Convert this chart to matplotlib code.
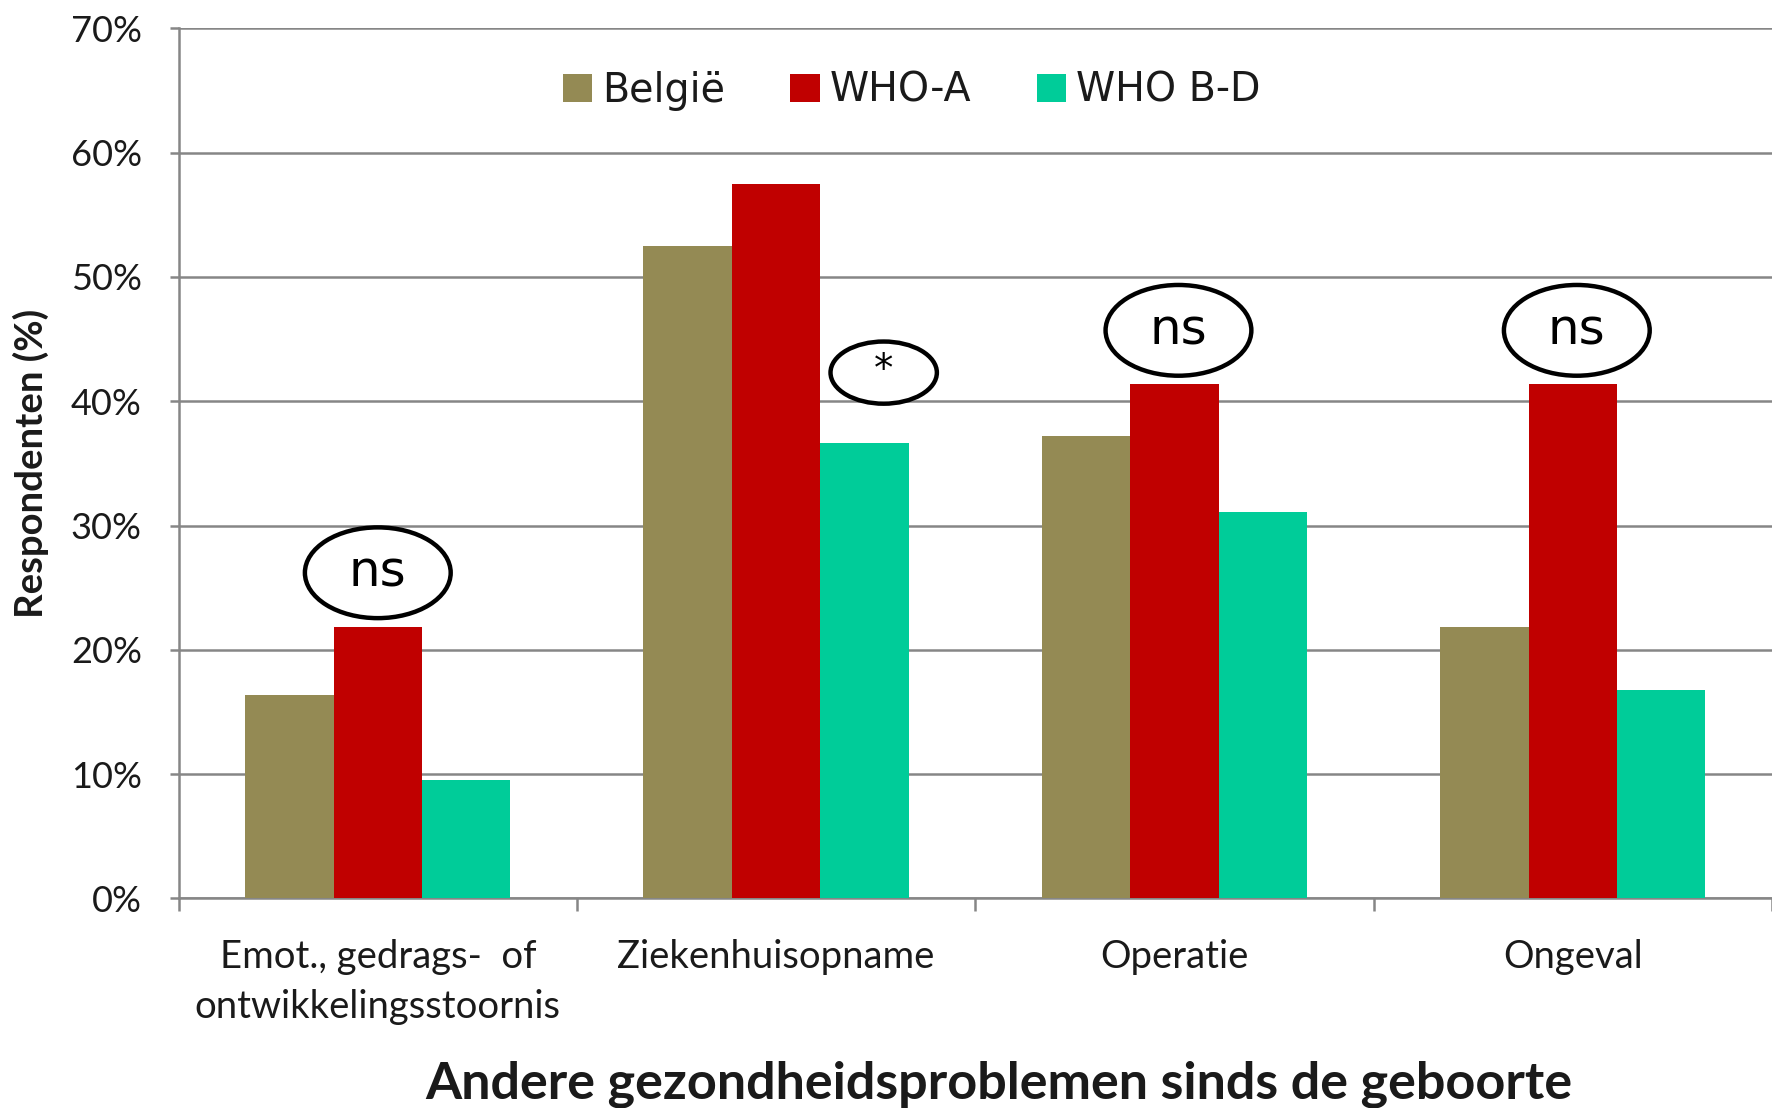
import matplotlib
matplotlib.use("Agg")
import matplotlib.pyplot as plt
from matplotlib.patches import Ellipse
from matplotlib.ticker import FixedLocator

# ---- data ----
categories = ["Emot., gedrags-  of\nontwikkelingsstoornis", "Ziekenhuisopname", "Operatie", "Ongeval"]
series_names = ["België", "WHO-A", "WHO B-D"]
belgie = [16.4, 52.5, 37.2, 21.8]
who_a = [21.8, 57.5, 41.4, 41.4]
who_bd = [9.5, 36.6, 31.1, 16.8]
y_ticks = [0, 10, 20, 30, 40, 50, 60, 70]
y_tick_labels = ["0%", "10%", "20%", "30%", "40%", "50%", "60%", "70%"]
annot_labels = ["ns", "*", "ns", "ns"]
annot_x = [0.0, 1.27, 2.01, 3.01]
annot_y = [26.2, 42.3, 45.7, 45.7]
annot_w = [0.366, 0.267, 0.366, 0.366]
annot_h = [7.3, 5.0, 7.3, 7.3]
annot_fs = [36, 28, 36, 36]
ylabel = "Respondenten (%)"
xlabel = "Andere gezondheidsproblemen sinds de geboorte"

colors = ["#948A54", "#C00000", "#00CC99"]
grid_col = "#868686"
text_col = "#1a1a1a"

fig = plt.figure(figsize=(17.72, 11.08), dpi=100)
ax = fig.add_axes([0.1008, 0.1891, 0.8992, 0.7854])

n = len(categories)
x = list(range(n))
w = 0.222
series = [belgie, who_a, who_bd]
for i, (name, vals, c) in enumerate(zip(series_names, series, colors)):
    xs = [xi + (i - 1) * w for xi in x]
    ax.bar(xs, vals, width=w, color=c, label=name, zorder=3, linewidth=0)

ax.set_xlim(-0.5, n - 0.5)
ax.set_ylim(0, 70)

# grid
ax.set_yticks(y_ticks)
ax.set_yticklabels(y_tick_labels, fontfamily="Lato", fontsize=26, color=text_col)
ax.yaxis.grid(True, color=grid_col, linewidth=1.8, zorder=0)
ax.set_axisbelow(True)

ax.set_xticks(x)
ax.set_xticklabels(categories, fontfamily="Lato", fontsize=27.5, color=text_col, linespacing=1.5)
ax.xaxis.set_minor_locator(FixedLocator([k - 0.5 for k in range(n + 1)]))
ax.tick_params(axis="x", which="major", length=0, pad=29)
ax.tick_params(axis="x", which="minor", length=9, width=1.8, color=grid_col)
ax.tick_params(axis="y", which="major", length=6.5, width=1.8, color=grid_col, pad=20)

for s in ["top", "right"]:
    ax.spines[s].set_visible(False)
for s in ["left", "bottom"]:
    ax.spines[s].set_color(grid_col)
    ax.spines[s].set_linewidth(1.8)

ax.set_ylabel(ylabel, fontfamily="Lato", fontweight="bold", fontsize=27.5, color=text_col, va="center")
ax.yaxis.set_label_coords(-0.0925, 0.5)
ax.set_xlabel(xlabel, fontfamily="Lato", fontweight="bold", fontsize=37.5, color=text_col, va="center")
ax.xaxis.set_label_coords(0.515, -0.213)

# annotations
for lab, ex, ey, ew, eh, fs in zip(annot_labels, annot_x, annot_y, annot_w, annot_h, annot_fs):
    ax.add_patch(Ellipse((ex, ey), ew, eh, facecolor="white", edgecolor="black", linewidth=3.2, zorder=5))
    ax.text(ex, ey + (0 if lab != "*" else 0.25), lab, ha="center", va="center",
            fontfamily="DejaVu Sans", fontsize=fs, color="black", zorder=6)

leg = ax.legend(loc="center", bbox_to_anchor=(0.46, 0.928), ncol=3, frameon=False,
                prop={"family": "DejaVu Sans", "size": 28.5}, handlelength=0.74, handleheight=0.74,
                handletextpad=0.25, columnspacing=1.65, borderpad=0)
for t in leg.get_texts():
    t.set_color(text_col)

fig.savefig("out.png", dpi=100, facecolor="white")
